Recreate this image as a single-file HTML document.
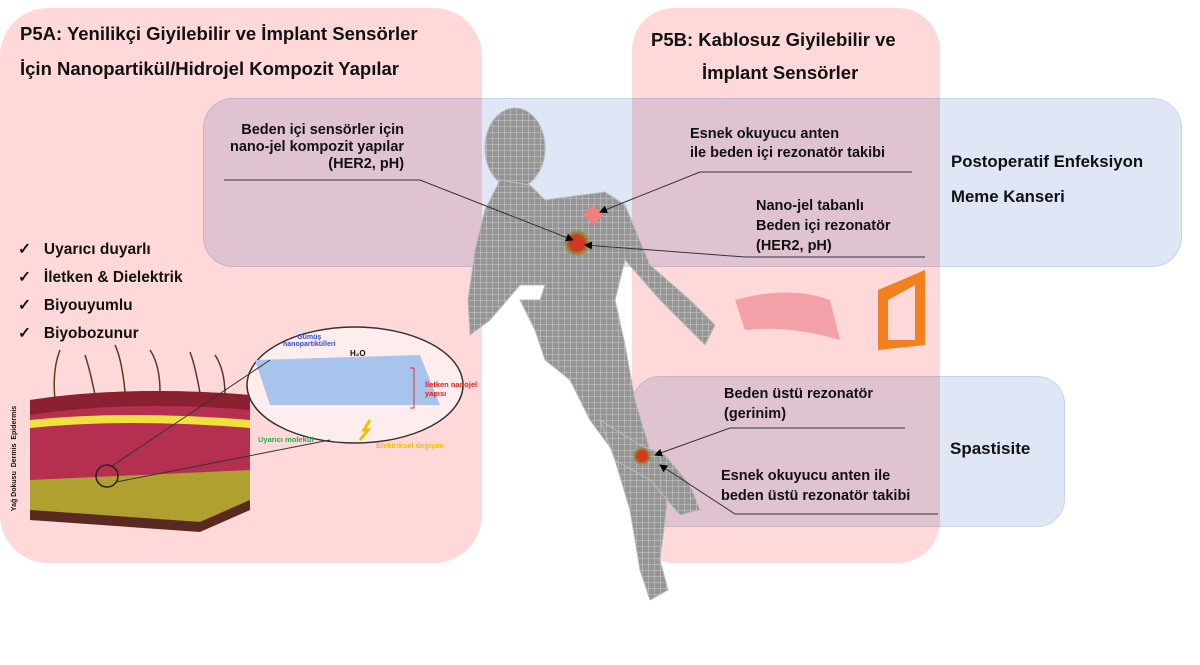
<!DOCTYPE html>
<html><head><meta charset="utf-8"><style>
body{margin:0;width:1200px;height:665px;background:#fff;position:relative;overflow:hidden;font-family:"Liberation Sans",sans-serif;}
.box{position:absolute;}
.t{position:absolute;font-weight:bold;color:#111;white-space:nowrap;}
</style></head><body>
<div class="box" style="left:0;top:8px;width:482px;height:555px;background:#ffd9d9;border-radius:48px;"></div>
<div class="box" style="left:632px;top:8px;width:308px;height:555px;background:#ffd9d9;border-radius:42px;"></div>
<div class="box" style="left:203px;top:98px;width:977px;height:167px;background:#dfe6f5;mix-blend-mode:multiply;border-radius:30px;border:1px solid #c8d3ec;"></div>
<div class="box" style="left:632px;top:376px;width:431px;height:149px;background:#dfe6f5;mix-blend-mode:multiply;border-radius:28px;border:1px solid #c8d3ec;"></div>

<svg width="1200" height="665" style="position:absolute;left:0;top:0">
<defs>
<pattern id="g" width="6" height="6" patternUnits="userSpaceOnUse"><rect width="6" height="6" fill="#959595"/><path d="M0 0H6M0 0V6" stroke="#dcdcdc" stroke-width="0.8"/></pattern>
<radialGradient id="r"><stop offset="0" stop-color="#e03020"/><stop offset="0.6" stop-color="#c84020"/><stop offset="1" stop-color="#80a030" stop-opacity="0.5"/></radialGradient>
<marker id="a" markerWidth="8" markerHeight="8" refX="7" refY="4" orient="auto"><path d="M0 0L8 4L0 8z" fill="#000"/></marker>
</defs>
<g fill="url(#g)" stroke="#bbb" stroke-width="1">
<ellipse cx="515" cy="148" rx="30" ry="40"/>
<path d="M500 180 L530 185 L545 200 L605 192 L625 205 L650 265 L690 300 L715 325 L705 345 L690 330 L660 300 L625 260 L615 300 L625 345 L635 400 L650 450 L670 475 L665 520 L660 560 L668 590 L650 600 L640 570 L630 510 L612 450 L590 420 L570 380 L545 360 L535 330 L520 300 L540 300 L545 285 L520 285 L490 320 L470 335 L468 300 L475 250 L485 210 Z"/>
<path d="M600 420 L640 445 L665 455 L690 485 L700 510 L680 515 L650 480 L615 460 Z"/>
</g>
<circle cx="577" cy="243" r="13" fill="url(#r)"/>
<rect x="586" y="208" width="14" height="14" fill="#f08080" transform="rotate(45 593 215)"/>
<circle cx="642" cy="456" r="9" fill="url(#r)"/>
<g stroke="#333" stroke-width="1" fill="none">
<path d="M224 180H420L573 240" marker-end="url(#a)"/>
<path d="M912 172H700L600 212" marker-end="url(#a)"/>
<path d="M925 257H745L585 245" marker-end="url(#a)"/>
<path d="M905 428H730L655 455" marker-end="url(#a)"/>
<path d="M938 514H735L660 465" marker-end="url(#a)"/>
</g>
<!-- skin block -->
<path d="M30 400 Q130 385 250 395 L250 505 L200 528 L30 520Z" fill="#b53050"/>
<path d="M30 400 Q130 385 250 395 L250 410 Q130 400 30 415Z" fill="#8a2030"/>
<path d="M30 420 Q130 410 250 420 L250 428 Q130 418 30 428Z" fill="#f0e040"/>
<path d="M30 480 L250 470 L250 500 L200 522 L30 510Z" fill="#b0a030"/>
<path d="M30 510 L200 522 L250 500 L250 510 L200 532 L30 520Z" fill="#5a2a20"/>
<g stroke="#5a3a20" stroke-width="1.5" fill="none">
<path d="M55 400 Q52 370 60 350"/><path d="M95 395 Q90 370 85 355"/><path d="M125 392 Q122 360 115 345"/><path d="M160 392 Q160 365 150 350"/><path d="M200 393 Q195 365 190 352"/><path d="M225 395 Q225 370 215 355"/>
</g>
<ellipse cx="355" cy="385" rx="108" ry="58" fill="#fff" fill-opacity="0.5" stroke="#333" stroke-width="1.5"/>
<path d="M255 360 L420 355 L440 405 L270 405Z" fill="#a8c4ec"/>
<circle cx="107" cy="476" r="11" fill="none" stroke="#222" stroke-width="1.5"/>
<path d="M112 466 L270 360 M116 482 L330 440" stroke="#333" stroke-width="1"/>
<path d="M360 440 l8 -10 l-4 0 l6 -10" stroke="#f0c000" stroke-width="3" fill="none"/>
<path d="M410 368 h4 v40 h-4" stroke="#e03030" fill="none"/>
<!-- sensors -->
<path d="M735 300 Q790 285 830 300 L840 340 Q790 325 745 330Z" fill="#f4a0a8"/>
<path d="M878 290 L925 270 L925 345 L878 350Z M888 300 V340 H915 V285 Z" fill="#f08020" fill-rule="evenodd"/>
</svg>

<div class="t" style="left:20px;top:23px;font-size:18.5px;">P5A: Yenilikçi Giyilebilir ve İmplant Sensörler</div>
<div class="t" style="left:20px;top:58px;font-size:18.5px;">İçin Nanopartikül/Hidrojel Kompozit Yapılar</div>
<div class="t" style="left:651px;top:29px;font-size:18.5px;">P5B: Kablosuz Giyilebilir ve</div>
<div class="t" style="left:702px;top:62px;font-size:18.5px;">İmplant Sensörler</div>
<div class="t" style="left:230px;top:122px;font-size:14.5px;line-height:17px;text-align:right;">Beden içi sensörler için<br>nano-jel kompozit yapılar<br>(HER2, pH)</div>
<div class="t" style="left:690px;top:125px;font-size:14.5px;line-height:19px;">Esnek okuyucu anten<br>ile beden içi rezonatör takibi</div>
<div class="t" style="left:756px;top:196px;font-size:14.5px;line-height:20px;">Nano-jel tabanlı<br>Beden içi rezonatör<br>(HER2, pH)</div>
<div class="t" style="left:951px;top:152px;font-size:16.8px;">Postoperatif Enfeksiyon</div>
<div class="t" style="left:951px;top:187px;font-size:16.8px;">Meme Kanseri</div>
<div class="t" style="left:724px;top:384px;font-size:14.5px;line-height:20px;">Beden üstü rezonatör<br>(gerinim)</div>
<div class="t" style="left:721px;top:466px;font-size:14.5px;line-height:20px;">Esnek okuyucu anten ile<br>beden üstü rezonatör takibi</div>
<div class="t" style="left:950px;top:439px;font-size:17px;">Spastisite</div>
<div class="t" style="left:18px;top:236px;font-size:15.5px;line-height:28px;">✓&nbsp;&nbsp; Uyarıcı duyarlı<br>✓&nbsp;&nbsp; İletken &amp; Dielektrik<br>✓&nbsp;&nbsp; Biyouyumlu<br>✓&nbsp;&nbsp; Biyobozunur</div>
<div class="t" style="left:283px;top:334px;font-size:7px;color:#3050d0;text-align:center;">Gümüş<br>nanopartikülleri</div>
<div class="t" style="left:350px;top:349px;font-size:8px;">H₂O</div>
<div class="t" style="left:425px;top:380px;font-size:7.5px;color:#e02020;">İletken nanojel<br>yapısı</div>
<div class="t" style="left:258px;top:435px;font-size:7.5px;color:#20b050;">Uyarıcı molekül</div>
<div class="t" style="left:376px;top:441px;font-size:7.5px;color:#f0c000;">Elektriksel değişim</div>
<div class="t" style="left:-38px;top:455px;font-size:7px;transform:rotate(-90deg);">Yağ Dokusu &nbsp;Dermis &nbsp;Epidermis</div>
</body></html>
